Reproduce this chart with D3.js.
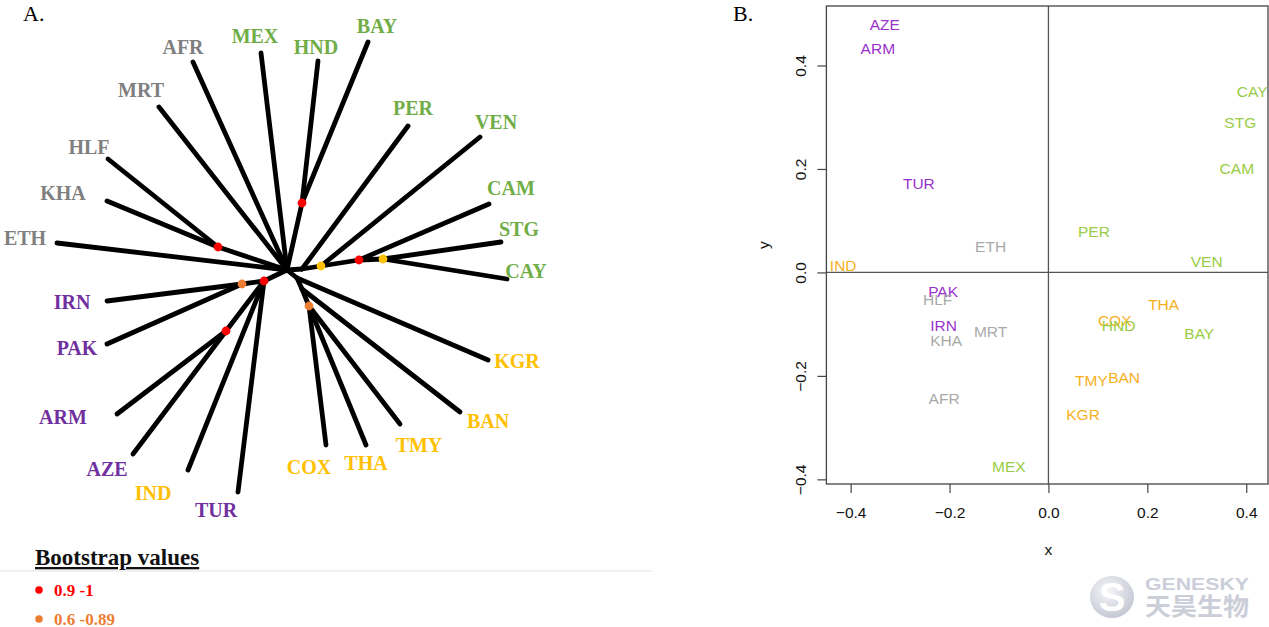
<!DOCTYPE html>
<html>
<head>
<meta charset="utf-8">
<script src="https://cdn.jsdelivr.net/npm/d3@7"></script>
<style>
  body { margin: 0; background: #fff; }
  svg { display: block; }
</style>
</head>
<body>
<div id="chart"></div>
<script>
// ---- Panel A data: unrooted tree, node layout in tree units (root = 0,0) ----
const nodeIds     = ["C", "nHK", "nHB", "G1", "G2", "G3", "G4", "O1", "O1b", "O2", "L1", "L2", "L3"];
const nodeParents = [null, "C", "C", "C", "G1", "G2", "G3", "C", "O1", "O1b", "C", "L1", "L1"];
const nodeX       = [0, -0.69, 0.15, 0.15, 0.34, 0.72, 0.96, 0.10, 0.15, 0.22, -0.23, -0.45, -0.61];
const nodeY       = [0.01, 0.24, 0.68, 0.02, 0.05, 0.11, 0.12, -0.07, -0.18, -0.35, -0.10, -0.13, -0.60];
const bootstrap   = [null, 0.95, 0.95, null, 0.5, 0.95, 0.5, null, null, 0.75, 0.95, 0.75, 0.95];

const tipNames   = ["ETH", "KHA", "HLF", "MRT", "AFR", "MEX", "HND", "BAY", "PER", "VEN", "CAM", "STG",
                    "CAY", "KGR", "BAN", "TMY", "THA", "COX", "TUR", "IND", "AZE", "ARM", "PAK", "IRN"];
const tipParents = ["C", "nHK", "nHK", "C", "C", "C", "nHB", "nHB", "G1", "G2", "G3", "G4",
                    "G4", "O1", "O1b", "O2", "O2", "O2", "L1", "L1", "L3", "L3", "L2", "L2"];
const tipX = [-2.30, -1.80, -1.79, -1.28, -0.94, -0.26, 0.31, 0.81, 1.21, 1.93, 2.02, 2.14,
              2.20, 2.01, 1.73, 1.13, 0.79, 0.39, -0.49, -0.99, -1.54, -1.70, -1.80, -1.80];
const tipY = [0.28, 0.70, 1.12, 1.64, 2.09, 2.18, 2.10, 2.29, 1.45, 1.34, 0.67, 0.29,
              -0.08, -0.89, -1.41, -1.53, -1.74, -1.74, -2.21, -1.99, -1.83, -1.43, -0.73, -0.30];
const labelX = [-2.62, -2.24, -1.98, -1.46, -1.04, -0.32, 0.29, 0.90, 1.26, 2.09, 2.24, 2.32,
                2.39, 2.30, 2.01, 1.32, 0.79, 0.22, -0.71, -1.34, -1.80, -2.24, -2.10, -2.15];
const labelY = [0.33, 0.78, 1.24, 1.81, 2.24, 2.35, 2.24, 2.45, 1.63, 1.49, 0.83, 0.42,
                0.00, -0.90, -1.50, -1.74, -1.92, -1.96, -2.39, -2.22, -1.98, -1.46, -0.77, -0.31];
const tipGroup = ["grey", "grey", "grey", "grey", "grey", "green", "green", "green", "green", "green", "green", "green",
                  "green", "yellow", "yellow", "yellow", "yellow", "yellow", "purple", "yellow", "purple", "purple", "purple", "purple"];

const legendLabels = ["0.9 -1", "0.6 -0.89"];

// ---- Panel B data: MDS coordinates ----
const popNames = ["AZE", "ARM", "TUR", "ETH", "IND", "PER", "VEN", "CAY", "STG", "CAM", "PAK", "HLF",
                  "IRN", "KHA", "MRT", "AFR", "MEX", "THA", "COX", "HND", "BAY", "TMY", "BAN", "KGR"];
const popX = [-0.331, -0.345, -0.262, -0.117, -0.415, 0.092, 0.320, 0.412, 0.388, 0.381, -0.213, -0.224,
              -0.212, -0.207, -0.117, -0.211, -0.080, 0.233, 0.134, 0.142, 0.305, 0.087, 0.153, 0.070];
const popY = [0.480, 0.433, 0.173, 0.051, 0.013, 0.080, 0.022, 0.349, 0.289, 0.201, -0.036, -0.052,
              -0.103, -0.131, -0.114, -0.243, -0.375, -0.062, -0.093, -0.102, -0.117, -0.209, -0.203, -0.274];
const popGroup = ["purple", "purple", "purple", "grey", "yellow", "green", "green", "green", "green", "green", "purple", "grey",
                  "purple", "grey", "grey", "grey", "green", "yellow", "yellow", "green", "green", "yellow", "yellow", "yellow"];
const xTicks = [-0.4, -0.2, 0.0, 0.2, 0.4];
const yTicks = [-0.4, -0.2, 0.0, 0.2, 0.4];

// ---- colours ----
const colA = { grey: "#7f7f7f", green: "#70ad47", yellow: "#ffc000", purple: "#7030a0" };
const colB = { grey: "#a9a9a9", green: "#99cc44", yellow: "#f6b01e", purple: "#9a32cc" };
const bootColor = d3.scaleThreshold().domain([0.6, 0.9]).range(["#ffc000", "#ed7d31", "#ff0000"]);

const W = 1269, H = 627;
const svg = d3.select("#chart").append("svg")
  .attr("width", W).attr("height", H)
  .attr("viewBox", `0 0 ${W} ${H}`);

// ================= Panel A =================
const xA = d3.scaleLinear().domain([-2.5, 2.5]).range([37, 537]);
const yA = d3.scaleLinear().domain([-2.5, 2.5]).range([521, 21]);

const nodes = new Map();
nodeIds.forEach((id, i) => nodes.set(id, { id, parent: nodeParents[i], x: nodeX[i], y: nodeY[i], boot: bootstrap[i] }));
tipNames.forEach((id, i) => nodes.set(id, { id, parent: tipParents[i], x: tipX[i], y: tipY[i], tip: true, i }));

const edges = [...nodes.values()].filter(d => d.parent);

const gA = svg.append("g");
gA.selectAll("line.branch")
  .data(edges)
  .join("line")
    .attr("class", "branch")
    .attr("x1", d => xA(nodes.get(d.parent).x))
    .attr("y1", d => yA(nodes.get(d.parent).y))
    .attr("x2", d => xA(d.x))
    .attr("y2", d => yA(d.y))
    .attr("stroke", "#000")
    .attr("stroke-width", 4.8)
    .attr("stroke-linecap", "round");

// bootstrap dots on internal nodes
gA.selectAll("circle.boot")
  .data([...nodes.values()].filter(d => d.boot != null))
  .join("circle")
    .attr("class", "boot")
    .attr("cx", d => xA(d.x))
    .attr("cy", d => yA(d.y))
    .attr("r", 4.4)
    .attr("fill", d => bootColor(d.boot));

// tip labels
gA.selectAll("text.tip")
  .data(tipNames)
  .join("text")
    .attr("class", "tip")
    .attr("x", (d, i) => xA(labelX[i]))
    .attr("y", (d, i) => yA(labelY[i]))
    .attr("dy", "0.34em")
    .attr("text-anchor", "middle")
    .attr("fill", (d, i) => colA[tipGroup[i]])
    .style("font-family", "'Liberation Serif', 'Times New Roman', serif")
    .style("font-weight", "bold")
    .style("font-size", "20px")
    .text(d => d);

// panel letters
svg.append("text").attr("x", 23).attr("y", 21)
  .style("font-family", "'Liberation Serif', serif").style("font-size", "22px").text("A.");
svg.append("text").attr("x", 733).attr("y", 21)
  .style("font-family", "'Liberation Serif', serif").style("font-size", "22px").text("B.");

// legend
svg.append("line").attr("x1", 0).attr("x2", 652).attr("y1", 571).attr("y2", 571)
  .attr("stroke", "#ececec").attr("stroke-width", 1.5);
svg.append("text").attr("x", 35).attr("y", 565)
  .style("font-family", "'Liberation Serif', serif").style("font-weight", "bold")
  .style("font-size", "23px").style("text-decoration", "underline")
  .attr("fill", "#111")
  .text("Bootstrap values");

const legendColors = [bootColor(0.95), bootColor(0.75)];
const legendY = d3.scalePoint().domain(legendLabels).range([590, 619]);
const lg = svg.append("g").selectAll("g").data(legendLabels).join("g")
  .attr("transform", d => `translate(0,${legendY(d)})`);
lg.append("circle").attr("cx", 39).attr("cy", 0).attr("r", 3.8)
  .attr("fill", (d, i) => legendColors[i]);
lg.append("text").attr("x", 54).attr("y", 0).attr("dy", "0.36em")
  .attr("fill", (d, i) => legendColors[i])
  .style("font-family", "'Liberation Serif', serif").style("font-weight", "bold")
  .style("font-size", "17px")
  .text(d => d);

// ================= Panel B =================
const box = { left: 826.4, right: 1268, top: 6, bottom: 484 };
const xB = d3.scaleLinear().domain([-0.449, 0.444]).range([box.left, box.right]);
const yB = d3.scaleLinear().domain([-0.409, 0.515]).range([box.bottom, box.top]);
const fmt = d => d3.format(".1f")(d);
const sans = "'Liberation Sans', Arial, Helvetica, sans-serif";

const gB = svg.append("g");

// x axis
const xAxisG = gB.append("g")
  .attr("transform", `translate(0,${box.bottom})`)
  .call(d3.axisBottom(xB).tickValues(xTicks).tickSize(9).tickSizeOuter(0).tickPadding(14).tickFormat(fmt));
// y axis
const yAxisG = gB.append("g")
  .attr("transform", `translate(${box.left},0)`)
  .call(d3.axisLeft(yB).tickValues(yTicks).tickSize(9).tickSizeOuter(0).tickFormat(fmt));
yAxisG.selectAll("text")
  .attr("transform", "rotate(-90)")
  .attr("x", 0).attr("y", -20).attr("dy", 0)
  .attr("text-anchor", "middle");

[xAxisG, yAxisG].forEach(g => {
  g.select(".domain").remove();
  g.selectAll("line").attr("stroke", "#444").attr("stroke-width", 1.2);
  g.selectAll("text").attr("fill", "#111").style("font-family", sans).style("font-size", "15.5px");
});

// zero reference lines
gB.append("line").attr("x1", box.left).attr("x2", box.right)
  .attr("y1", yB(0)).attr("y2", yB(0)).attr("stroke", "#555").attr("stroke-width", 1.3);
gB.append("line").attr("x1", xB(0)).attr("x2", xB(0))
  .attr("y1", box.top).attr("y2", box.bottom).attr("stroke", "#555").attr("stroke-width", 1.3);

// frame
gB.append("rect")
  .attr("x", box.left).attr("y", box.top)
  .attr("width", box.right - box.left).attr("height", box.bottom - box.top)
  .attr("fill", "none").attr("stroke", "#444").attr("stroke-width", 1.3);

// axis titles
gB.append("text").attr("x", xB(0)).attr("y", 555).attr("text-anchor", "middle")
  .style("font-family", sans).style("font-size", "15.5px").attr("fill", "#111").text("x");
gB.append("text").attr("transform", `translate(769,${(box.top + box.bottom) / 2}) rotate(-90)`)
  .attr("text-anchor", "middle")
  .style("font-family", sans).style("font-size", "15.5px").attr("fill", "#111").text("y");

// population labels
gB.selectAll("text.pop")
  .data(popNames)
  .join("text")
    .attr("class", "pop")
    .attr("x", (d, i) => xB(popX[i]))
    .attr("y", (d, i) => yB(popY[i]))
    .attr("dy", "0.36em")
    .attr("text-anchor", "middle")
    .attr("fill", (d, i) => colB[popGroup[i]])
    .style("font-family", sans)
    .style("font-size", "15.5px")
    .text(d => d);

// watermark
const wm = svg.append("g").attr("opacity", 0.85);
const grad = svg.append("defs").append("radialGradient").attr("id", "wmg")
  .attr("cx", "40%").attr("cy", "35%").attr("r", "70%");
grad.append("stop").attr("offset", "0%").attr("stop-color", "#f4f5f9");
grad.append("stop").attr("offset", "100%").attr("stop-color", "#b9bccb");
wm.append("ellipse").attr("cx", 1112).attr("cy", 597).attr("rx", 22).attr("ry", 21)
  .attr("fill", "url(#wmg)");
wm.append("text").attr("x", 1112).attr("y", 611).attr("text-anchor", "middle")
  .style("font-family", sans).style("font-weight", "bold").style("font-size", "40px")
  .attr("fill", "#fff").text("S");
wm.append("text").attr("x", 1145).attr("y", 590)
  .style("font-family", sans).style("font-weight", "bold").style("font-size", "17px")
  .attr("fill", "#c3c6d3").attr("textLength", 104).attr("lengthAdjust", "spacingAndGlyphs")
  .text("GENESKY");
wm.append("text").attr("x", 1145).attr("y", 615)
  .style("font-family", "'Noto Sans CJK SC', sans-serif").style("font-weight", "bold").style("font-size", "24px")
  .attr("fill", "#c3c6d3").attr("textLength", 104).attr("lengthAdjust", "spacingAndGlyphs")
  .text("天昊生物");
</script>
</body>
</html>
